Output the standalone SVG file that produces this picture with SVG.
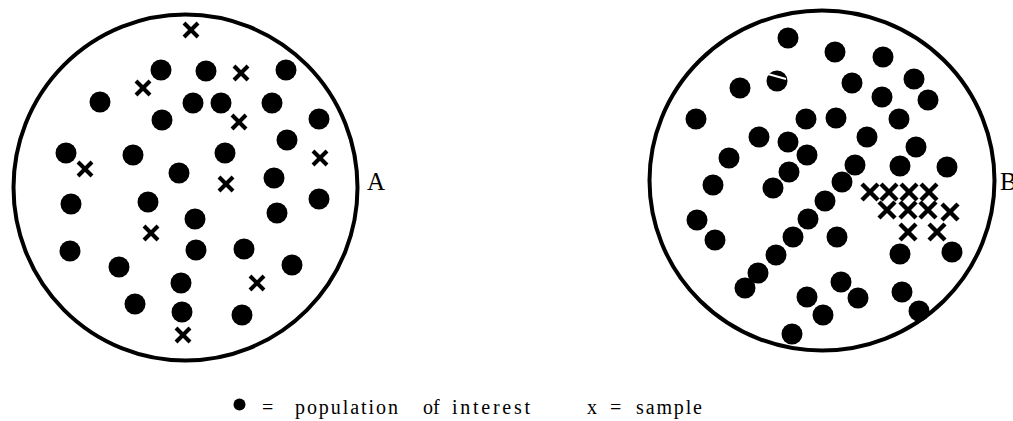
<svg xmlns="http://www.w3.org/2000/svg" xmlns:xlink="http://www.w3.org/1999/xlink" width="1013" height="421" viewBox="0 0 1013 421">
<style>
.ring{fill:none;stroke:#000;stroke-width:4}
.lbl{font-family:"Liberation Serif","Times New Roman",serif;fill:#000}
</style>
<defs>
<circle id="d" r="10.5" fill="#000"/>
<g id="x" stroke="#000" stroke-width="4"><line x1="-7" y1="-7" x2="7" y2="7"/><line x1="-7" y1="7" x2="7" y2="-7"/></g>
<g id="X" stroke="#000" stroke-width="4.5"><line x1="-8" y1="-8" x2="8" y2="8"/><line x1="-8" y1="8" x2="8" y2="-8"/></g>
</defs>
<rect width="1013" height="421" fill="#fff"/>
<g id="populationA">
<ellipse class="ring" cx="185.5" cy="187.5" rx="172" ry="173"/>
<use xlink:href="#d" x="161" y="70"/><use xlink:href="#d" x="206" y="71"/><use xlink:href="#d" x="286" y="70"/>
<use xlink:href="#d" x="100" y="102"/><use xlink:href="#d" x="193" y="103"/><use xlink:href="#d" x="221" y="103"/>
<use xlink:href="#d" x="272" y="103"/><use xlink:href="#d" x="162" y="120"/><use xlink:href="#d" x="319" y="119"/>
<use xlink:href="#d" x="287" y="140"/><use xlink:href="#d" x="66" y="153"/><use xlink:href="#d" x="133" y="155"/>
<use xlink:href="#d" x="225" y="153"/><use xlink:href="#d" x="179" y="173"/><use xlink:href="#d" x="274" y="178"/>
<use xlink:href="#d" x="71" y="204"/><use xlink:href="#d" x="148" y="202"/><use xlink:href="#d" x="319" y="199"/>
<use xlink:href="#d" x="195" y="219"/><use xlink:href="#d" x="277" y="213"/><use xlink:href="#d" x="70" y="251"/>
<use xlink:href="#d" x="196" y="250"/><use xlink:href="#d" x="244" y="249"/><use xlink:href="#d" x="119" y="267"/>
<use xlink:href="#d" x="292" y="265"/><use xlink:href="#d" x="181" y="283"/><use xlink:href="#d" x="135" y="304"/>
<use xlink:href="#d" x="182" y="312"/><use xlink:href="#d" x="242" y="315"/>
<use xlink:href="#x" x="191" y="30"/><use xlink:href="#x" x="143" y="88"/><use xlink:href="#x" x="241" y="73"/>
<use xlink:href="#x" x="239" y="122"/><use xlink:href="#x" x="85" y="169"/><use xlink:href="#x" x="320" y="158"/>
<use xlink:href="#x" x="226" y="184"/><use xlink:href="#x" x="151" y="233"/><use xlink:href="#x" x="257" y="283"/>
<use xlink:href="#x" x="183" y="335"/>
<text class="lbl" x="367" y="190" font-size="25">A</text>
</g>
<g id="populationB">
<ellipse class="ring" cx="822" cy="180.5" rx="172.5" ry="170"/>
<use xlink:href="#d" x="788" y="38"/><use xlink:href="#d" x="835" y="52"/><use xlink:href="#d" x="883" y="57"/>
<use xlink:href="#d" x="740" y="88"/><use xlink:href="#d" x="777" y="81"/><use xlink:href="#d" x="852" y="83"/>
<use xlink:href="#d" x="882" y="97"/><use xlink:href="#d" x="914" y="79"/><use xlink:href="#d" x="928" y="100"/>
<use xlink:href="#d" x="696" y="119"/><use xlink:href="#d" x="806" y="119"/><use xlink:href="#d" x="836" y="118"/>
<use xlink:href="#d" x="899" y="119"/><use xlink:href="#d" x="759" y="137"/><use xlink:href="#d" x="788" y="142"/>
<use xlink:href="#d" x="867" y="137"/><use xlink:href="#d" x="807" y="155"/><use xlink:href="#d" x="729" y="158"/>
<use xlink:href="#d" x="916" y="147"/><use xlink:href="#d" x="789" y="172"/><use xlink:href="#d" x="855" y="165"/>
<use xlink:href="#d" x="900" y="166"/><use xlink:href="#d" x="947" y="167"/><use xlink:href="#d" x="773" y="188"/>
<use xlink:href="#d" x="713" y="185"/><use xlink:href="#d" x="842" y="182"/><use xlink:href="#d" x="825" y="201"/>
<use xlink:href="#d" x="697" y="220"/><use xlink:href="#d" x="808" y="219"/><use xlink:href="#d" x="715" y="240"/>
<use xlink:href="#d" x="793" y="237"/><use xlink:href="#d" x="837" y="237"/><use xlink:href="#d" x="776" y="255"/>
<use xlink:href="#d" x="758" y="273"/><use xlink:href="#d" x="900" y="254"/><use xlink:href="#d" x="952" y="252"/>
<use xlink:href="#d" x="745" y="288"/><use xlink:href="#d" x="841" y="282"/><use xlink:href="#d" x="807" y="297"/>
<use xlink:href="#d" x="858" y="298"/><use xlink:href="#d" x="902" y="292"/><use xlink:href="#d" x="919" y="311"/>
<use xlink:href="#d" x="823" y="315"/><use xlink:href="#d" x="792" y="334"/>
<line x1="768" y1="74" x2="786" y2="79" stroke="#fff" stroke-width="2"/>
<use xlink:href="#X" x="870" y="192"/><use xlink:href="#X" x="889" y="192"/><use xlink:href="#X" x="909" y="192"/>
<use xlink:href="#X" x="929" y="192"/><use xlink:href="#X" x="887" y="210"/><use xlink:href="#X" x="908" y="210"/>
<use xlink:href="#X" x="928" y="210"/><use xlink:href="#X" x="950" y="212"/><use xlink:href="#X" x="908" y="232"/>
<use xlink:href="#X" x="937" y="232"/>
<text class="lbl" x="1000" y="190" font-size="25">B</text>
</g>
<g id="legend">
<circle cx="239.5" cy="404.5" r="6" fill="#000"/>
<text class="lbl" x="262" y="414" font-size="20">=</text>
<text class="lbl" x="295" y="414" font-size="20" textLength="103" lengthAdjust="spacing">population</text>
<text class="lbl" x="423" y="414" font-size="20">of</text>
<text class="lbl" x="452" y="414" font-size="20" textLength="78" lengthAdjust="spacing">interest</text>
<text class="lbl" x="587" y="414" font-size="20">x</text>
<text class="lbl" x="610" y="414" font-size="20">=</text>
<text class="lbl" x="636" y="414" font-size="20" textLength="66" lengthAdjust="spacing">sample</text>
</g>
</svg>
